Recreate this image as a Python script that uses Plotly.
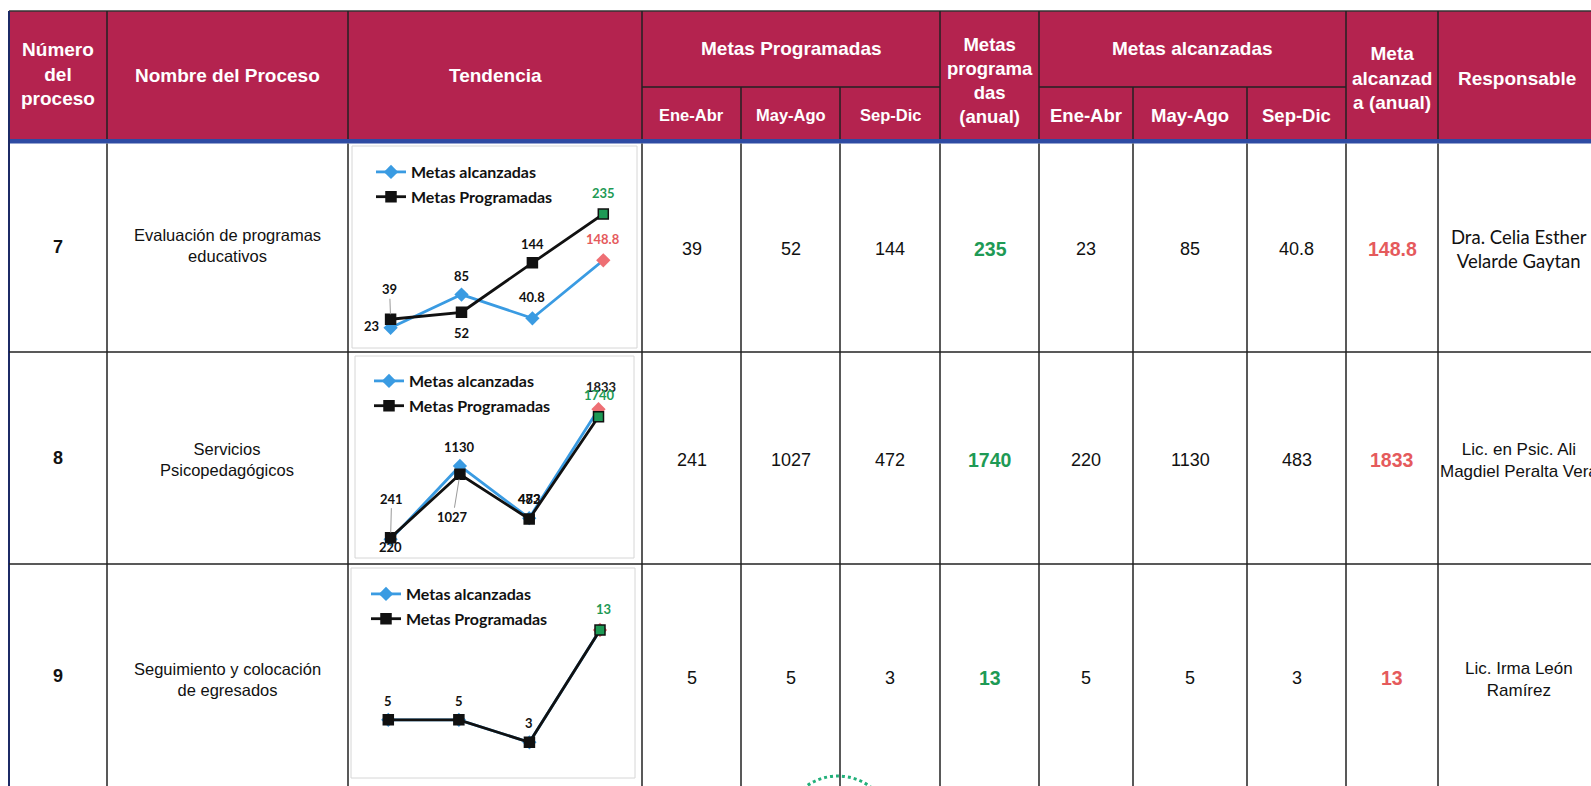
import plotly.graph_objects as go

# ---------------- DATA ----------------
procesos = ["7", "8", "9"]
nombres = ["Evaluación de programas<br>educativos",
           "Servicios<br>Psicopedagógicos",
           "Seguimiento y colocación<br>de egresados"]
periodos = ["Ene-Abr", "May-Ago", "Sep-Dic"]
chart_x = ["Ene-Abr", "May-Ago", "Sep-Dic", "Anual"]
prog = [[39, 52, 144], [241, 1027, 472], [5, 5, 3]]
prog_anual = [235, 1740, 13]
alc = [[23, 85, 40.8], [220, 1130, 483], [5, 5, 3]]
alc_anual = [148.8, 1833, 13]
responsables = ["Dra. Celia Esther<br>Velarde Gaytan",
                "Lic. en Psic. Ali<br>Magdiel Peralta Vera",
                "Lic. Irma León<br>Ramírez"]
legend_alc = "Metas alcanzadas"
legend_prog = "Metas Programadas"

# ---------------- LAYOUT GEOMETRY (pixels) ----------------
W, H = 1591, 786
X = lambda px: px / W
Y = lambda py: 1 - py / H

CRIMSON = "#B4234F"
BLUE_RULE = "#2E4BA3"
GRID = "#222222"
GREEN = "#1E9A55"
RED = "#E55A5C"
LBLUE = "#3A9BE2"
HFONT = "Liberation Sans, Arial, sans-serif"
CFONT = "Lato, Carlito, sans-serif"

col = [9, 107, 348, 642, 741, 840, 940, 1039, 1133, 1247, 1346, 1438]
top, sub, hbot = 11, 87, 141
row_lines = [352, 564]
row_text_y = [249, 460, 678]
name_y = [245, 459, 679]
resp_y = [249, 460, 679]
resp_x = 1519

fig = go.Figure()
shapes = []
ann = []

# header fill
shapes.append(dict(type="rect", xref="paper", yref="paper", x0=X(col[0]), x1=1.0,
                   y0=Y(hbot), y1=Y(top), fillcolor=CRIMSON, line=dict(width=0), layer="below"))
# blue rule
shapes.append(dict(type="rect", xref="paper", yref="paper", x0=X(col[0]), x1=1.0,
                   y0=Y(143.5), y1=Y(139), fillcolor=BLUE_RULE, line=dict(width=0)))

def hline(py, x0, x1, color=GRID, w=1.5):
    shapes.append(dict(type="line", xref="paper", yref="paper", x0=X(x0), x1=X(x1),
                       y0=Y(py), y1=Y(py), line=dict(color=color, width=w)))

def vline(px, y0, y1, color=GRID, w=1.5):
    shapes.append(dict(type="line", xref="paper", yref="paper", x0=X(px), x1=X(px),
                       y0=Y(y0), y1=Y(y1), line=dict(color=color, width=w)))

hline(top, col[0], W, "#333333", 1.5)
vline(col[0], top, H, "#1c2a66", 2)
for c in [107, 348, 642, 940, 1039, 1346, 1438]:
    vline(c, top, 139)
    vline(c, 143.5, H)
for c in [741, 840, 1133, 1247]:
    vline(c, sub, 139)
    vline(c, 143.5, H)
hline(sub, 642, 940)
hline(sub, 1039, 1346)
for r in row_lines:
    hline(r, col[0], W)

# chart boxes
boxes = [(352, 146, 637, 348), (355, 356, 634, 558), (351, 568, 635, 778)]
for (x0, y0, x1, y1) in boxes:
    shapes.append(dict(type="rect", xref="paper", yref="paper", x0=X(x0), x1=X(x1),
                       y0=Y(y1), y1=Y(y0), line=dict(color="#d6d6d6", width=1),
                       fillcolor="rgba(0,0,0,0)"))

# stamp fragment
shapes.append(dict(type="circle", xref="paper", yref="paper", x0=X(784), x1=X(892),
                   y0=Y(884), y1=Y(776), line=dict(color="#22B07A", width=3, dash="dot")))

def text(px, py, t, size, color="white", family=HFONT, bold=False):
    s = f"<b>{t}</b>" if bold else t
    ann.append(dict(xref="paper", yref="paper", x=X(px), y=Y(py), text=s, showarrow=False,
                    xanchor="center", yanchor="middle", align="center",
                    font=dict(size=size, color=color, family=family)))

# header texts
text(58, 74, "Número<br>del<br>proceso", 19, bold=True)
text(227, 75, "Nombre del Proceso", 19, bold=True)
text(495, 75, "Tendencia", 19, bold=True)
text(791, 49, "Metas Programadas", 19, bold=True)
for i, p in enumerate(periodos):
    text((col[3 + i] + col[4 + i]) / 2, 115, p, 16.5, bold=True)
text(990, 80, "Metas<br>programa<br>das<br>(anual)", 18.5, bold=True)
text(1392, 78, "Meta<br>alcanzad<br>a (anual)", 19, bold=True)
text(1192, 49, "Metas alcanzadas", 19, bold=True)
for i, p in enumerate(periodos):
    text((col[7 + i] + col[8 + i]) / 2, 116, p, 18.5, bold=True)
text(1517, 78, "Responsable", 19, bold=True)

fmt = lambda v: f"{v:g}"
for r in range(3):
    yv = row_text_y[r]
    text(58, yv - 2, procesos[r], 18, "#111", bold=True)
    text(227, name_y[r], nombres[r], 16.5, "#111")
    for i in range(3):
        text((col[3 + i] + col[4 + i]) / 2, yv, fmt(prog[r][i]), 18, "#111")
        text((col[7 + i] + col[8 + i]) / 2, yv, fmt(alc[r][i]), 18, "#111")
    text(990, yv, fmt(prog_anual[r]), 19.5, GREEN, bold=True)
    text(1392, yv, fmt(alc_anual[r]), 19.5, RED, bold=True)
    fam = CFONT if r == 0 else HFONT
    text(resp_x, resp_y[r], responsables[r], 18.5 if r == 0 else 17, "#111", family=fam)

# ---------------- EMBEDDED CHARTS ----------------
chart_dom = [dict(x=(390.6, 603.3), y=(340.2, 214.0), top=235),
             dict(x=(390.6, 598.5), y=(557.1, 409.2), top=1833),
             dict(x=(388.3, 600.0), y=(776.0, 630.0), top=13)]
legend_pos = [(371, 155), (369, 364), (366, 577)]

# label offsets (dx, dy, leader) in px
prog_off = [[(-1, -30, True), (0, 21, False), (0, -19, False), (0, -21, False)],
            [(1, -39, True), (-7, 43, True), (0, -20, False), (1, -22, False)],
            [(0, -19, False), (0, -19, False), (0, -19, False), (3, -21, False)]]
alc_off = [[(-19, -2, False), (0, -19, False), (0, -21, False), (0, -21, False)],
           [(0, 8, False), (0, -19, False), (0, -19, False), (2, -22, False)],
           None]
alc_last_color = [RED, "#222", RED]

layout_axes = {}
for k in range(3):
    sfx = "" if k == 0 else str(k + 1)
    d = chart_dom[k]
    layout_axes["xaxis" + sfx] = dict(domain=[X(d["x"][0]), X(d["x"][1])], range=[0, 3],
                                      type="category", visible=False,
                                      anchor="y" + sfx, fixedrange=True)
    layout_axes["yaxis" + sfx] = dict(domain=[Y(d["y"][0]), Y(d["y"][1])], range=[0, d["top"]],
                                      visible=False, anchor="x" + sfx, fixedrange=True)
    leg = "legend" + sfx
    ys_alc = alc[k] + [alc_anual[k]]
    ys_prog = prog[k] + [prog_anual[k]]
    fig.add_trace(go.Scatter(
        x=chart_x, y=ys_alc, mode="lines+markers", name=legend_alc,
        xaxis="x" + sfx, yaxis="y" + sfx, legend=leg, legendgroup=f"a{k}",
        line=dict(color=LBLUE, width=2.8), cliponaxis=False,
        marker=dict(symbol="diamond", size=11, color=[LBLUE] * 3 + ["#EE6F74"],
                    line=dict(width=0))))
    fig.add_trace(go.Scatter(
        x=chart_x, y=ys_prog, mode="lines+markers", name=legend_prog,
        xaxis="x" + sfx, yaxis="y" + sfx, legend=leg, legendgroup=f"p{k}",
        line=dict(color="#111111", width=2.8), cliponaxis=False,
        marker=dict(symbol="square", size=10, color=["#111111"] * 3 + [GREEN],
                    line=dict(width=1.5, color="#111111"))))

    def lab(xv, yv, t, off, color):
        dx, dy, leader = off
        base = dict(xref="x" + sfx, yref="y" + sfx, x=xv, y=yv,
                    text=f"<b>{t}</b>",
                    font=dict(size=13, color=color, family=CFONT))
        if leader:
            base.update(showarrow=True, ax=dx, ay=dy, arrowhead=0, arrowwidth=1,
                        arrowcolor="#9a9a9a", standoff=5, startstandoff=0)
        else:
            base.update(showarrow=False, xshift=dx, yshift=-dy)
        ann.append(base)

    if alc_off[k] is not None:
        for i in range(4):
            c = alc_last_color[k] if i == 3 else "#111"
            lab(chart_x[i], ys_alc[i], fmt(ys_alc[i]), alc_off[k][i], c)
    for i in range(4):
        c = GREEN if i == 3 else "#111"
        lab(chart_x[i], ys_prog[i], fmt(ys_prog[i]), prog_off[k][i], c)

    lx, ly = legend_pos[k]
    layout_axes[leg] = dict(x=X(lx), y=Y(ly), xanchor="left", yanchor="top",
                            bgcolor="rgba(0,0,0,0)", borderwidth=0,
                            tracegroupgap=1, itemwidth=30,
                            font=dict(size=16, color="#111", family=CFONT, weight="bold"))

fig.update_layout(width=W, height=H, margin=dict(l=0, r=0, t=0, b=0),
                  paper_bgcolor="white", plot_bgcolor="rgba(0,0,0,0)",
                  shapes=shapes, annotations=ann, showlegend=True,
                  **layout_axes)
fig.write_html("out.html", config={"displayModeBar": False},
               post_script="document.body.style.margin='0px';document.body.style.padding='0px';")
